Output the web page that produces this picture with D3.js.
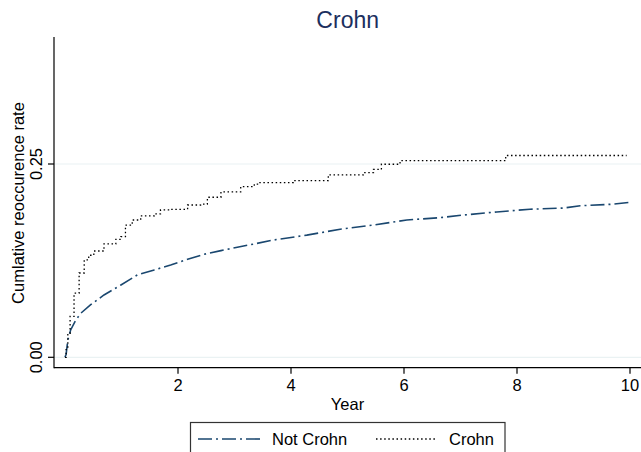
<!DOCTYPE html>
<html>
<head>
<meta charset="utf-8">
<script src="https://cdn.jsdelivr.net/npm/d3@7"></script>
<style>
  body { margin: 0; background: #fff; }
  text { font-family: "Liberation Sans", Arial, sans-serif; }
</style>
</head>
<body>
<div id="chart"></div>
<script>
// cumulative reoccurence
const crohnYears = [0, 0.02, 0.05, 0.09, 0.16, 0.25, 0.34, 0.42, 0.51, 0.69, 0.90, 0.99, 1.07, 1.19, 1.34, 1.58, 1.69, 1.87, 2.17, 2.40, 2.52, 2.76, 3.11, 3.35, 3.45, 4.04, 4.66, 5.28, 5.46, 5.60, 5.93, 7.80, 9.94];
const crohnRate  = [0, 0.010, 0.031, 0.053, 0.083, 0.109, 0.126, 0.132, 0.1375, 0.1466, 0.1526, 0.156, 0.171, 0.1776, 0.183, 0.1854, 0.1906, 0.1914, 0.197, 0.198, 0.207, 0.214, 0.2207, 0.224, 0.226, 0.2285, 0.236, 0.2388, 0.243, 0.2497, 0.2543, 0.261, 0.261];

const notCrohnYears = [0, 0.02, 0.05, 0.10, 0.19, 0.28, 0.45, 0.69, 0.99, 1.28, 1.58, 1.87, 2.17, 2.46, 2.76, 3.05, 3.35, 3.69, 4.28, 4.87, 5.46, 6.05, 6.64, 7.05, 7.64, 8.23, 8.82, 9.12, 9.70, 10.0];
const notCrohnRate  = [0, 0.004, 0.0224, 0.0353, 0.048, 0.057, 0.0677, 0.0806, 0.0935, 0.1065, 0.113, 0.1194, 0.1268, 0.1332, 0.138, 0.1423, 0.1466, 0.1517, 0.158, 0.1656, 0.171, 0.1776, 0.1806, 0.184, 0.188, 0.1915, 0.193, 0.196, 0.198, 0.2005];

const xTicks = [2, 4, 6, 8, 10];
const yTicks = [0, 0.25];
const legendNames = ["Not Crohn", "Crohn"];

const width = 641, height = 452;
const navy = "#1a476f";
const titleCol = "#1c2f5e";
const grid = "#eaf2f3";

const svg = d3.select("#chart").append("svg")
  .attr("width", width)
  .attr("height", height);

const x = d3.scaleLinear().domain([0, 10]).range([65, 630]);
const y = d3.scaleLinear().domain([0, 0.25]).range([357.3, 164]);

const axisLeft = 54, axisBottom = 367.7, plotTop = 37;

// gridlines
svg.append("g").selectAll("line").data(yTicks).enter().append("line")
  .attr("x1", axisLeft).attr("x2", width)
  .attr("y1", d => y(d)).attr("y2", d => y(d))
  .attr("stroke", grid).attr("stroke-width", 1.2);

// axes lines
svg.append("line").attr("x1", axisLeft).attr("x2", axisLeft)
  .attr("y1", plotTop).attr("y2", axisBottom + 0.5)
  .attr("stroke", "#000").attr("stroke-width", 1.2);
svg.append("line").attr("x1", axisLeft).attr("x2", width)
  .attr("y1", axisBottom).attr("y2", axisBottom)
  .attr("stroke", "#000").attr("stroke-width", 1.2);

// x ticks
const xg = svg.append("g").selectAll("g").data(xTicks).enter().append("g");
xg.append("line")
  .attr("x1", d => x(d)).attr("x2", d => x(d))
  .attr("y1", axisBottom).attr("y2", axisBottom + 6)
  .attr("stroke", "#000").attr("stroke-width", 1.2);
xg.append("text")
  .attr("x", d => x(d)).attr("y", axisBottom + 23.5)
  .attr("text-anchor", "middle")
  .style("font-size", "16.5px")
  .text(d => d);

// y ticks
const yg = svg.append("g").selectAll("g").data(yTicks).enter().append("g");
yg.append("line")
  .attr("x1", axisLeft - 6).attr("x2", axisLeft)
  .attr("y1", d => y(d)).attr("y2", d => y(d))
  .attr("stroke", "#000").attr("stroke-width", 1.2);
yg.append("text")
  .attr("transform", d => "translate(" + (axisLeft - 12) + "," + y(d) + ") rotate(-90)")
  .attr("text-anchor", "middle")
  .style("font-size", "16.5px")
  .text(d => d3.format(".2f")(d));

// axis titles
svg.append("text")
  .attr("x", 347.5).attr("y", 409.5)
  .attr("text-anchor", "middle")
  .style("font-size", "16.5px")
  .text("Year");
svg.append("text")
  .attr("transform", "translate(23.5,203) rotate(-90)")
  .attr("text-anchor", "middle")
  .style("font-size", "16.5px")
  .text("Cumlative reoccurence rate");

svg.append("text")
  .attr("x", 347.7).attr("y", 28.3)
  .attr("text-anchor", "middle")
  .attr("fill", titleCol)
  .style("font-size", "23px")
  .text("Crohn");

// curves
const notCrohn = notCrohnYears.map((t, i) => [t, notCrohnRate[i]]);
const crohn = crohnYears.map((t, i) => [t, crohnRate[i]]);

const lineSmooth = d3.line().x(d => x(d[0])).y(d => y(d[1]));
const lineStep = d3.line().x(d => x(d[0])).y(d => y(d[1])).curve(d3.curveStepAfter);

svg.append("path").datum(notCrohn)
  .attr("d", lineSmooth)
  .attr("fill", "none")
  .attr("stroke", navy)
  .attr("stroke-width", 1.6)
  .attr("stroke-dasharray", "14,4,2,4");

svg.append("path").datum(crohn)
  .attr("d", lineStep)
  .attr("fill", "none")
  .attr("stroke", "#000")
  .attr("stroke-width", 1.3)
  .attr("stroke-dasharray", "1.5,2.6");

// legend
const lg = svg.append("g");
lg.append("rect")
  .attr("x", 190.5).attr("y", 422.5)
  .attr("width", 314.5).attr("height", 40)
  .attr("fill", "#fff").attr("stroke", "#333").attr("stroke-width", 1.2);
lg.append("line")
  .attr("x1", 198).attr("x2", 260).attr("y1", 439).attr("y2", 439)
  .attr("stroke", navy).attr("stroke-width", 1.6)
  .attr("stroke-dasharray", "14,4,2,4");
lg.append("line")
  .attr("x1", 376).attr("x2", 436).attr("y1", 439).attr("y2", 439)
  .attr("stroke", "#000").attr("stroke-width", 1.3)
  .attr("stroke-dasharray", "1.5,2.6");
lg.append("text").attr("x", 272).attr("y", 445)
  .style("font-size", "16.5px").text(legendNames[0]);
lg.append("text").attr("x", 449).attr("y", 445)
  .style("font-size", "16.5px").text(legendNames[1]);
</script>
</body>
</html>
